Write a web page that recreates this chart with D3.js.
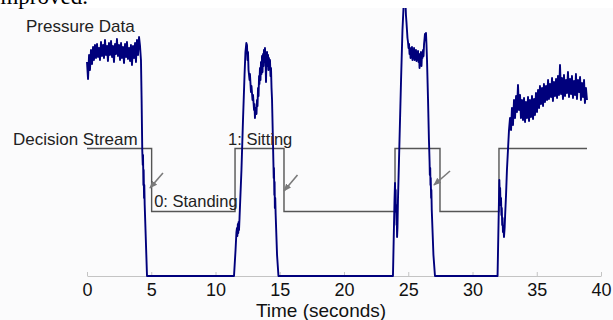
<!DOCTYPE html>
<html><head><meta charset="utf-8">
<script src="https://cdn.jsdelivr.net/npm/d3@7"></script>
<style>html,body{margin:0;padding:0;background:#fff;overflow:hidden}svg{display:block}</style>
</head><body>
<svg id="chart" width="613" height="320"></svg>
<script>
// ---------- data ----------
const timeTicks = [0, 5, 10, 15, 20, 25, 30, 35, 40];
const tickLabels = ["0", "5", "10", "15", "20", "25", "30", "35", "40"];
const axisTitle = "Time (seconds)";

// decision stream: change times (s) and the state that starts there (1 = sitting, 0 = standing)
const decisionTimes = [0, 5.03, 11.52, 15.33, 23.97, 27.47, 32.06, 38.91];
const decisionStates = [1, 0, 1, 0, 1, 0, 1, 1];
const stateLabels = ["0: Standing", "1: Sitting"];

// pressure data [time s, pressure units]
const pressure = [
[0.00,214],[0.08,197],[0.16,221],[0.23,206],[0.31,226],[0.39,212],[0.47,229],[0.54,216],[0.62,231],[0.70,218],
[0.78,232],[0.86,219],[0.93,228],[1.01,216],[1.09,234],[1.17,220],[1.25,231],[1.32,218],[1.40,236],[1.48,221],
[1.56,230],[1.63,215],[1.71,233],[1.79,221],[1.87,235],[1.95,219],[2.02,230],[2.10,214],[2.18,232],[2.26,222],
[2.33,237],[2.41,220],[2.49,231],[2.57,216],[2.65,233],[2.72,218],[2.80,229],[2.88,213],[2.96,232],[3.04,219],
[3.11,234],[3.19,217],[3.27,228],[3.35,215],[3.42,231],[3.50,211],[3.58,230],[3.66,218],[3.74,233],[3.81,214],
[3.89,236],[3.97,221],[4.05,239],[4.12,231],
[4.20,216],[4.25,176],[4.30,126],[4.34,111],[4.36,121],[4.39,91],[4.41,106],[4.44,78],[4.46,91],[4.49,71],[4.67,0],
[11.44,0],
[11.56,26],[11.63,44],[11.67,48],[11.70,40],[11.74,52],[11.77,43],[11.80,54],[11.83,46],[11.87,58],[12.02,106],
[12.14,156],[12.26,201],[12.33,224],[12.40,233],[12.45,231],[12.49,216],[12.53,224],[12.57,206],[12.65,196],[12.68,202],
[12.76,184],[12.80,190],[12.88,176],[12.92,181],[13.00,166],[13.03,172],[13.07,158],[13.11,168],[13.19,162],[13.23,176],
[13.27,170],[13.31,188],[13.35,180],[13.39,200],[13.42,192],[13.46,208],[13.50,196],[13.54,214],[13.58,202],[13.62,220],
[13.66,204],[13.70,222],[13.74,210],[13.77,226],[13.81,214],[13.85,228],[13.89,218],[13.93,194],[13.97,220],[14.01,224],
[14.05,210],[14.09,221],[14.12,206],[14.16,218],[14.20,208],[14.24,216],[14.28,200],[14.32,208],[14.36,188],[14.40,176],
[14.46,141],[14.51,111],[14.53,98],[14.55,108],[14.58,81],[14.60,94],[14.62,68],[14.65,78],[14.68,62],[14.79,21],[14.90,0],
[23.81,0],
[23.93,76],[23.97,93],[23.99,76],[24.02,86],[24.04,64],[24.06,71],[24.09,51],[24.11,58],[24.13,39],[24.16,48],
[24.20,76],[24.32,136],[24.44,196],[24.55,246],[24.63,268],[24.71,280],[24.79,271],[24.82,261],[24.86,254],[24.90,246],
[24.94,238],[24.98,234],[25.02,228],[25.06,232],[25.10,222],[25.14,228],[25.18,218],[25.21,226],[25.25,220],[25.29,229],
[25.33,216],[25.37,226],[25.41,220],[25.45,228],[25.49,216],[25.53,224],[25.56,218],[25.60,226],[25.64,215],[25.68,223],
[25.72,217],[25.76,225],[25.80,214],[25.84,222],[25.88,208],[25.91,221],[25.95,216],[25.99,224],[26.03,210],[26.07,222],
[26.11,218],[26.15,226],[26.19,220],[26.23,232],[26.26,236],[26.30,242],[26.34,238],[26.38,243],[26.42,231],[26.46,216],
[26.54,176],[26.61,136],[26.66,114],[26.68,101],[26.71,108],[26.73,91],[26.75,98],[26.78,78],[26.80,86],[26.83,66],
[26.96,21],[27.08,0],
[31.95,0],
[32.06,76],[32.09,96],[32.12,81],[32.15,88],[32.18,71],[32.22,78],[32.25,61],[32.28,68],[32.31,51],[32.34,58],
[32.37,44],[32.41,50],[32.45,39],[32.50,48],[32.54,61],[32.61,81],[32.68,106],[32.76,126],[32.84,146],[32.92,158],
[33.00,146],[33.07,168],[33.15,151],[33.23,176],[33.31,158],[33.39,180],[33.46,164],[33.54,191],[33.62,166],[33.70,181],
[33.77,158],[33.85,176],[33.93,156],[34.01,178],[34.09,154],[34.16,174],[34.24,158],[34.32,179],[34.40,155],[34.47,176],
[34.55,159],[34.63,180],[34.71,157],[34.79,177],[34.86,161],[34.94,183],[35.02,164],[35.10,186],[35.18,168],[35.25,190],
[35.33,172],[35.41,188],[35.49,170],[35.56,192],[35.64,174],[35.72,190],[35.80,176],[35.88,196],[35.95,177],[36.03,192],
[36.11,179],[36.19,198],[36.26,175],[36.34,194],[36.42,180],[36.50,197],[36.58,178],[36.65,200],[36.73,181],[36.81,211],
[36.89,182],[36.96,198],[37.04,177],[37.12,201],[37.20,180],[37.28,196],[37.35,183],[37.43,204],[37.51,179],[37.59,197],
[37.67,182],[37.74,200],[37.82,178],[37.90,195],[37.98,181],[38.05,202],[38.13,177],[38.21,196],[38.29,184],[38.37,199],
[38.44,176],[38.52,193],[38.60,179],[38.68,196],[38.75,173],[38.83,188],[38.91,176]
];

// arrows marking the decision points: [tailTime, tailPressure, tipTime, tipPressure]
const arrows = [
  [5.91, 103, 4.90, 88],
  [16.38, 101, 15.33, 85],
  [28.25, 105, 27.00, 91]
];

// ---------- drawing ----------
const svg = d3.select("#chart");
const W = 613, H = 320;
const x = d3.scaleLinear().domain([0, 40]).range([87, 601]);
const yP = d3.scaleLinear().domain([0, 268]).range([276, 8]);
const yD = d3.scaleLinear().domain([0, 1]).range([211.5, 148.5]);

svg.append("rect").attr("x", 0).attr("y", 0).attr("width", W).attr("height", H).attr("fill", "#ffffff");
svg.append("rect").attr("x", 0).attr("y", 8).attr("width", W).attr("height", H - 8).attr("fill", "#fbfbfc");

// clipped text from the page above
svg.append("text").attr("x", -6).attr("y", 4)
  .attr("font-family", "'Liberation Serif', 'Times New Roman', serif").attr("font-size", 23)
  .attr("fill", "#000").text("improved.");

const defs = svg.append("defs");
defs.append("clipPath").attr("id", "plotclip").append("rect")
  .attr("x", 0).attr("y", 8).attr("width", W).attr("height", H - 8);
defs.append("marker").attr("id", "ah").attr("viewBox", "0 0 10 10")
  .attr("refX", 9).attr("refY", 5).attr("markerWidth", 5).attr("markerHeight", 5)
  .attr("orient", "auto").append("path").attr("d", "M0,1 L10,5 L0,9 Z").attr("fill", "#7a7a7a");

// x axis
const axis = d3.axisBottom(x).tickValues(timeTicks).tickFormat((d, i) => tickLabels[i])
  .tickSize(-4).tickSizeOuter(0).tickPadding(7.5);
const gAxis = svg.append("g").attr("transform", "translate(0,276)").call(axis);
gAxis.select(".domain").attr("stroke", "#c4c4c4");
gAxis.selectAll(".tick line").attr("stroke", "#c4c4c4");
gAxis.selectAll(".tick text").attr("font-family", "'Liberation Sans', Arial, sans-serif")
  .attr("font-size", 18).attr("fill", "#111");

svg.append("text").attr("x", 321).attr("y", 316.5).attr("text-anchor", "middle")
  .attr("font-family", "'Liberation Sans', Arial, sans-serif").attr("font-size", 19)
  .attr("fill", "#111").text(axisTitle);

// decision stream
const decisionPts = decisionTimes.map((t, i) => [t, decisionStates[i]]);
svg.append("path").datum(decisionPts)
  .attr("d", d3.line().x(d => x(d[0])).y(d => yD(d[1])).curve(d3.curveStepAfter))
  .attr("fill", "none").attr("stroke", "#555").attr("stroke-width", 1.4);

// pressure trace
svg.append("g").attr("clip-path", "url(#plotclip)").append("path").datum(pressure)
  .attr("d", d3.line().x(d => x(d[0])).y(d => yP(d[1])))
  .attr("fill", "none").attr("stroke", "#00007c").attr("stroke-width", 1.9)
  .attr("stroke-linejoin", "round");

// arrows
svg.selectAll(".arrow").data(arrows).join("line").attr("class", "arrow")
  .attr("x1", d => x(d[0])).attr("y1", d => yP(d[1]))
  .attr("x2", d => x(d[2])).attr("y2", d => yP(d[3]))
  .attr("stroke", "#7a7a7a").attr("stroke-width", 1.6).attr("marker-end", "url(#ah)");

// labels
const lab = (txt, px, py, size, anchor) => svg.append("text").attr("x", px).attr("y", py)
  .attr("text-anchor", anchor || "start")
  .attr("font-family", "'Liberation Sans', Arial, sans-serif").attr("font-size", size)
  .attr("fill", "#222").text(txt);
lab("Pressure Data", 26, 32, 17);
lab("Decision Stream", x(decisionTimes[1]) - 14, yD(1) - 4, 17, "end");
lab(stateLabels[1], x(decisionTimes[2]) - 7, yD(1) - 3.5, 16.5);
lab(stateLabels[0], x(decisionTimes[1]) + 2.5, yD(0) - 4.5, 16.5);
</script>
</body></html>
